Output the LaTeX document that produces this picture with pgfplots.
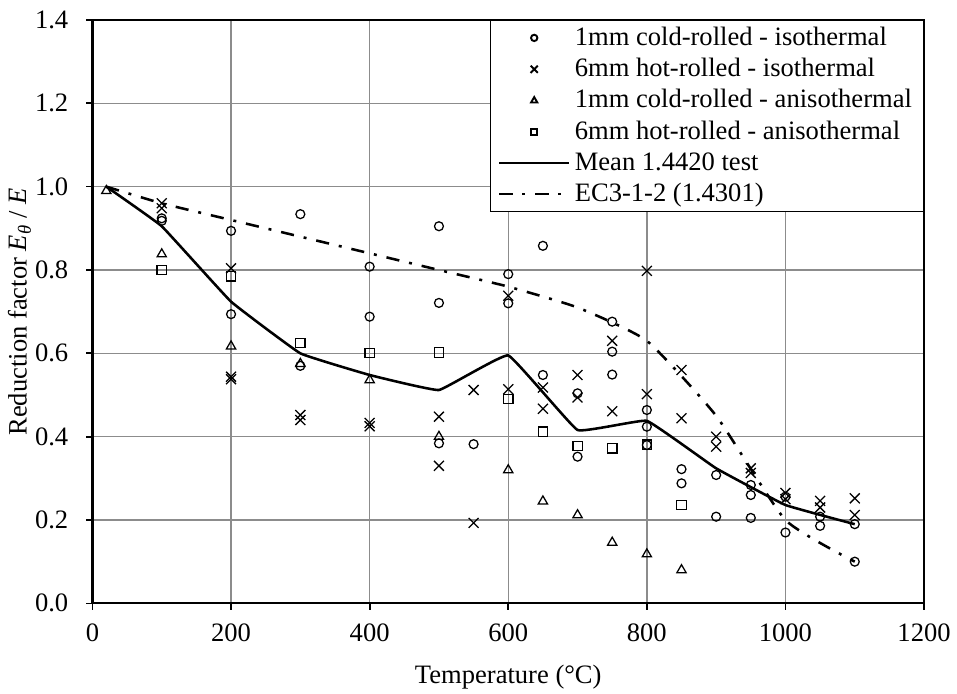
\documentclass[12pt,border=0pt]{standalone}
\usepackage{fontspec}
\setmainfont{Liberation Serif}
\usepackage{pgfplots}
\pgfplotsset{compat=1.18}
\newcommand\chartfont{\fontsize{12.5}{15}\selectfont}

\pgfplotstableread{
T v
100 0.924
100 0.918
200 0.894
200 0.694
300 0.934
300 0.570
400 0.808
400 0.688
500 0.905
500 0.721
500 0.384
550 0.382
600 0.790
600 0.720
650 0.858
650 0.548
700 0.504
700 0.352
750 0.676
750 0.604
750 0.549
800 0.464
800 0.424
800 0.380
850 0.322
850 0.288
900 0.308
900 0.208
950 0.284
950 0.260
950 0.205
1000 0.256
1000 0.170
1050 0.208
1050 0.186
1100 0.190
1100 0.100
}\coldiso

\pgfplotstableread{
T v
100 0.960
100 0.948
200 0.804
200 0.544
200 0.538
300 0.452
300 0.440
400 0.433
400 0.425
500 0.448
500 0.330
550 0.512
550 0.193
600 0.738
600 0.514
650 0.518
650 0.467
700 0.548
700 0.494
750 0.630
750 0.461
800 0.798
800 0.502
850 0.560
850 0.444
900 0.400
900 0.376
950 0.324
950 0.313
1000 0.265
1000 0.250
1050 0.246
1050 0.230
1100 0.252
1100 0.212
}\hotiso

\pgfplotstableread{
T v
20 0.990
100 0.838
200 0.617
300 0.575
400 0.536
500 0.400
600 0.320
650 0.245
700 0.212
750 0.146
800 0.118
850 0.080
}\coldaniso

\pgfplotstableread{
T v
100 0.800
200 0.785
300 0.625
400 0.601
500 0.602
600 0.490
650 0.412
700 0.378
750 0.372
800 0.381
850 0.236
}\hotaniso

\pgfplotstableread{
T v
20 1.000
100 0.905
200 0.724
300 0.600
400 0.548
500 0.512
600 0.595
700 0.416
800 0.438
900 0.324
1000 0.236
1100 0.190
}\meantest

\pgfplotstableread{
T v
20 1.00
100 0.96
200 0.92
300 0.88
400 0.84
500 0.80
600 0.76
700 0.71
800 0.63
900 0.45
1000 0.20
1100 0.10
}\ecthree

\begin{document}
\begin{tikzpicture}
\path[use as bounding box] (-43.5pt,-42.2pt) rectangle (406.8pt,283.9pt);
\begin{axis}[
  at={(0pt,0pt)}, anchor=south west,
  scale only axis, width=391.3pt, height=274.5pt,
  xmin=0, xmax=1200, ymin=0, ymax=1.4,
  xtick={0,200,400,600,800,1000,1200},
  ytick={0,0.2,0.4,0.6,0.8,1.0,1.2,1.4},
  grid=major,
  major grid style={black!45, line width=0.7pt},
  axis line style={black, line width=1pt},
  tick align=outside, major tick length=3pt,
  tick style={black, line width=0.8pt},
  tick pos=left,
  /pgf/number format/assume math mode=true,
  /pgf/number format/1000 sep={},
  yticklabel style={/pgf/number format/fixed, /pgf/number format/fixed zerofill, /pgf/number format/precision=1, xshift=-4.2pt},
  xticklabel style={yshift=-2.5pt},
  tick label style={font=\chartfont},
  xlabel={Temperature (°C)},
  ylabel={Reduction factor \textit{E}\textsubscript{\textit{θ}} / \textit{E}},
  every axis x label/.style={at={(axis description cs:0.5,0)}, anchor=base, yshift=-37.6pt, font=\chartfont},
  every axis y label/.style={at={(axis description cs:-0.0792,0.5)}, anchor=base, rotate=90, font=\chartfont},
  legend style={at={(1,1)}, anchor=north east, draw=black, font=\chartfont,
    fill=white, inner xsep=3.5pt, inner ysep=1pt, row sep=0.3pt},
  legend cell align=left,
  legend image code/.code={\draw[mark repeat=2,mark phase=2] plot coordinates {(0pt,0pt)(16.5pt,0pt)(33pt,0pt)};},
  markleg/.style={legend image code/.code={\draw[mark repeat=2,mark phase=2, mark size=#1, line width=0.9pt] plot coordinates {(0pt,0pt)(16.5pt,0pt)(33pt,0pt)};}},
]
\addplot[only marks, black, line width=0.6pt, mark=o, mark size=2.1pt, markleg=1.5pt] table[x=T,y=v] {\coldiso};
\addlegendentry{1mm cold-rolled - isothermal}
\addplot[only marks, black, line width=0.6pt, mark=x, mark size=3.3pt, markleg=2.4pt] table[x=T,y=v] {\hotiso};
\addlegendentry{6mm hot-rolled - isothermal}
\addplot[only marks, black, line width=0.6pt, mark=triangle, mark size=2.5pt, markleg=1.7pt] table[x=T,y=v] {\coldaniso};
\addlegendentry{1mm cold-rolled - anisothermal}
\addplot[only marks, black, line width=0.6pt, mark=square, mark size=2.2pt, markleg=1.5pt] table[x=T,y=v] {\hotaniso};
\addlegendentry{6mm hot-rolled - anisothermal}
\addplot[black, line width=1.2pt, no marks, smooth, tension=0.15] table[x=T,y=v] {\meantest};
\addlegendentry{Mean 1.4420 test}
\addplot[black, line width=1.2pt, no marks, smooth, tension=0.3, dash pattern=on 6.2pt off 4.7pt on 1.4pt off 4.7pt] table[x=T,y=v] {\ecthree};
\addlegendentry{EC3-1-2 (1.4301)}
\end{axis}
\end{tikzpicture}
\end{document}
